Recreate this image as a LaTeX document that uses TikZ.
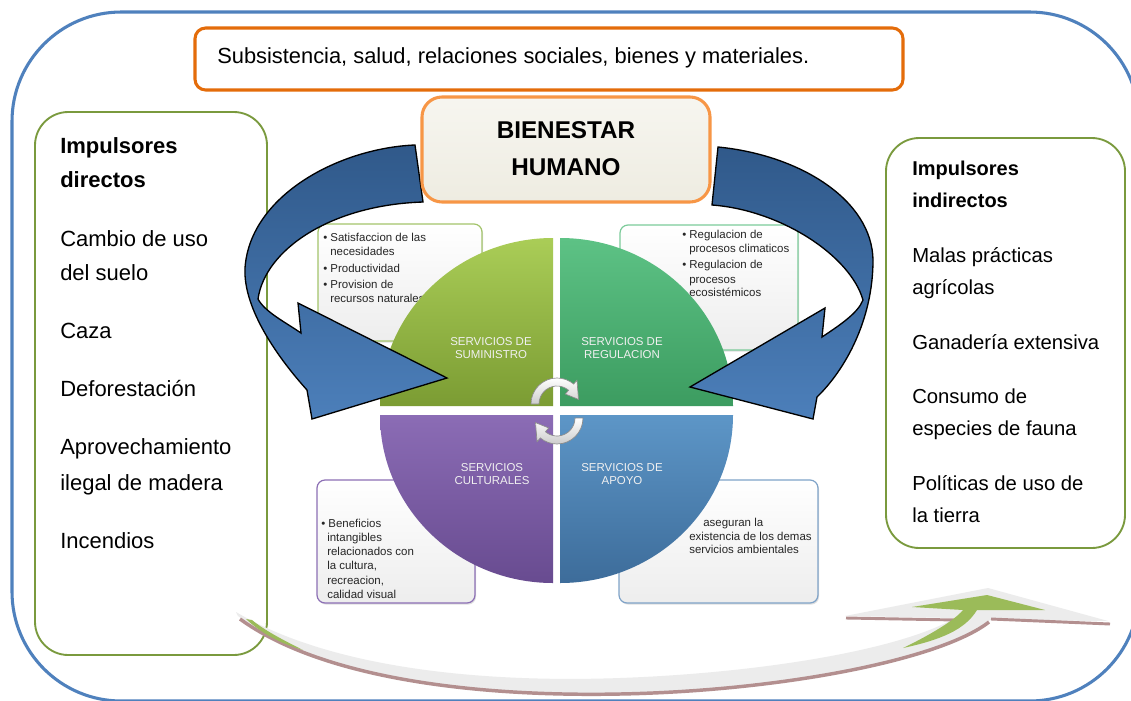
\documentclass[tikz,border=0pt]{standalone}
\usepackage{fontspec}
\setmainfont{Liberation Sans}
\usetikzlibrary{calc,shadows}
\definecolor{frameblue}{HTML}{4F81BD}
\definecolor{orangeline}{HTML}{E46C0A}
\definecolor{bienborder}{HTML}{F79646}
\definecolor{bienfill}{HTML}{EEECE1}
\definecolor{olivegreen}{HTML}{7A9A3E}
\definecolor{qtlA}{HTML}{AACD57}
\definecolor{qtlB}{HTML}{7B9C33}
\definecolor{qtrA}{HTML}{5DC285}
\definecolor{qtrB}{HTML}{3C9C60}
\definecolor{qblA}{HTML}{8B6CB5}
\definecolor{qblB}{HTML}{684B90}
\definecolor{qbrA}{HTML}{5D96C7}
\definecolor{qbrB}{HTML}{3D6C9A}
\definecolor{btl}{HTML}{A3C46B}
\definecolor{btr}{HTML}{7CCB9A}
\definecolor{bbl}{HTML}{8C6FB5}
\definecolor{bbr}{HTML}{7FA3C8}
\definecolor{arrowA}{HTML}{30598A}
\definecolor{arrowB}{HTML}{4C7FBA}
\definecolor{ribgray}{HTML}{ECECEC}
\definecolor{ribbrown}{HTML}{B38F8F}
\definecolor{ribgreen}{HTML}{9BBB59}
\tikzset{
 ltxt/.style={anchor=base west, inner sep=0pt, font=\fontsize{16.5}{19}\selectfont},
 lbold/.style={anchor=base west, inner sep=0pt, font=\fontsize{16.5}{19}\selectfont\bfseries},
 rtxt/.style={anchor=base west, inner sep=0pt, font=\fontsize{15.2}{18}\selectfont},
 rbold/.style={anchor=base west, inner sep=0pt, font=\fontsize{15}{18}\selectfont\bfseries},
 stxt/.style={anchor=base west, inner sep=0pt, text=black!85, font=\fontsize{8.6}{10}\selectfont},
 qtxt/.style={align=center, inner sep=0pt, text=white!94!black, font=\fontsize{8.6}{9.6}\selectfont},
 infobox/.style={rounded corners=6pt, line width=0.9pt, top color=white, bottom color=black!7,
   drop shadow={shadow xshift=0.8pt, shadow yshift=-1.2pt, opacity=0.25}},
 olivebox/.style={draw=olivegreen, line width=1.4pt, fill=white, rounded corners=25pt},
 bluearrow/.style={draw=black, line width=1pt, top color=arrowA, bottom color=arrowB, line join=miter},
 cyc/.style={draw=black!45, line width=0.5pt, top color=white, bottom color=black!20},
}
\begin{document}
\begin{tikzpicture}[x=0.75pt,y=-0.75pt]
\useasboundingbox (0,0) rectangle (1131,700);
\clip (0,0) rectangle (1131,700);
\fill[white] (0,0) rectangle (1131,700);
% outer frame
\draw[frameblue, line width=2.3pt, rounded corners=82pt] (12,12) rectangle (1139,701);
% top box
\draw[orangeline, line width=2.3pt, rounded corners=8pt, fill=white] (195,28) rectangle (903,90);
\node[anchor=base west, inner sep=0pt, font=\fontsize{16.4}{19}\selectfont] (top) at (217,63)
  {Subsistencia, salud, relaciones sociales, bienes y materiales.};
% left / right boxes
\path[olivebox] (35,112) rectangle (267,655);
\node[lbold] (ld1) at (60,153) {Impulsores};
\node[lbold] (ld2) at (60,187) {directos};
\node[ltxt] (l1) at (60,246) {Cambio de uso};
\node[ltxt] (l2) at (60,280) {del suelo};
\node[ltxt] (l3) at (60,338) {Caza};
\node[ltxt] (l4) at (60,396) {Deforestación};
\node[ltxt] (l5) at (60,454) {Aprovechamiento};
\node[ltxt] (l6) at (60,490) {ilegal de madera};
\node[ltxt] (l7) at (60,548) {Incendios};
\path[olivebox] (886,138) rectangle (1125,548);
\node[rbold] (ri1) at (912,175) {Impulsores};
\node[rbold] (ri2) at (912,207) {indirectos};
\node[rtxt] (r1) at (912,262) {Malas prácticas};
\node[rtxt] (r2) at (912,294) {agrícolas};
\node[rtxt] (r3) at (912,349) {Ganadería extensiva};
\node[rtxt] (r4) at (912,403) {Consumo de};
\node[rtxt] (r5) at (912,435) {especies de fauna};
\node[rtxt] (r6) at (912,490) {Políticas de uso de};
\node[rtxt] (r7) at (912,522) {la tierra};
% info boxes
\path[infobox, draw=btl] (318,224) rectangle (482,341);
\node[stxt] (s1a) at (323,241) {• Satisfaccion de las};
\node[stxt] (s1b) at (330,255) {necesidades};
\node[stxt] (s1c) at (323,272) {• Productividad};
\node[stxt] (s1d) at (323,288) {• Provision de};
\node[stxt] (s1e) at (330,302) {recursos naturales};
\path[infobox, draw=btr] (620,225) rectangle (798,350);
\node[stxt] (s2a) at (682,238) {• Regulacion de};
\node[stxt] (s2b) at (689,252) {procesos climaticos};
\node[stxt] (s2c) at (682,268) {• Regulacion de};
\node[stxt] (s2d) at (689,283) {procesos};
\node[stxt] (s2e) at (689,296) {ecosistémicos};
\path[infobox, draw=bbl] (317,480) rectangle (475,603);
\node[stxt] (s3a) at (321,527) {• Beneficios};
\node[stxt] (s3b) at (327,541) {intangibles};
\node[stxt] (s3c) at (327,555) {relacionados con};
\node[stxt] (s3d) at (327,569) {la cultura,};
\node[stxt] (s3e) at (327,584) {recreacion,};
\node[stxt] (s3f) at (327,598) {calidad visual};
\path[infobox, draw=bbr] (619,480) rectangle (818,603);
\node[stxt] (s4a) at (703,526) {aseguran la};
\node[stxt] (s4b) at (689,540) {existencia de los demas};
\node[stxt] (s4c) at (689,553) {servicios ambientales};
% quadrants
\path[top color=qtlA, bottom color=qtlB] (553,406) -- (380,406) arc[start angle=180, end angle=270, x radius=173, y radius=168] -- cycle;
\path[top color=qtrA, bottom color=qtrB] (560,406) -- (560,238) arc[start angle=270, end angle=360, x radius=173, y radius=168] -- cycle;
\path[top color=qblA, bottom color=qblB] (553,415) -- (380,415) arc[start angle=180, end angle=90, x radius=173, y radius=168] -- cycle;
\path[top color=qbrA, bottom color=qbrB] (560,415) -- (733,415) arc[start angle=0, end angle=90, x radius=173, y radius=168] -- cycle;
\node[qtxt] (q1) at (491,348) {SERVICIOS DE\\SUMINISTRO};
\node[qtxt] (q2) at (622,348) {SERVICIOS DE\\REGULACION};
\node[qtxt] (q3) at (492,474) {SERVICIOS\\CULTURALES};
\node[qtxt] (q4) at (622,474) {SERVICIOS DE\\APOYO};
% small cycle arrows
\coordinate (c1) at (557,404);
\coordinate (c2) at (557,418);
\path[cyc] ($(c1)+(-180:26)$) arc[start angle=-180, end angle=-50, radius=26]
  -- ($(c1)+(-50:31)$) -- ($(c1)+(-12:22)$) -- ($(c1)+(-50:13)$) -- ($(c1)+(-50:18)$)
  arc[start angle=-50, end angle=-180, radius=18] -- cycle;
\path[cyc] ($(c2)+(0:26)$) arc[start angle=0, end angle=130, radius=26]
  -- ($(c2)+(130:31)$) -- ($(c2)+(168:22)$) -- ($(c2)+(130:13)$) -- ($(c2)+(130:18)$)
  arc[start angle=130, end angle=0, radius=18] -- cycle;
% big blue arrows
\path[bluearrow] (415,145) .. controls (340,148) and (250,195) .. (245,268)
  .. controls (243,310) and (280,360) .. (307,390) -- (312,419) -- (447,378) -- (298,303) -- (301,333)
  .. controls (285,322) and (265,312) .. (258,299)
  .. controls (265,250) and (330,205) .. (423,202) -- cycle;
\path[bluearrow] (718,147) .. controls (800,155) and (872,200) .. (873,260)
  .. controls (873,320) and (845,370) .. (817,397) -- (813,419) -- (690,387) -- (825,308) -- (822,337)
  .. controls (840,325) and (858,313) .. (863,300)
  .. controls (850,255) and (780,210) .. (712,205) -- cycle;
% bienestar box
\draw[bienborder, line width=2.3pt, rounded corners=15pt, top color=white!50!bienfill, bottom color=bienfill] (422,97) rectangle (710,202);
\node[anchor=base, inner sep=0pt, font=\fontsize{18.2}{20}\selectfont\bfseries] (b1) at (566,138) {BIENESTAR};
\node[anchor=base, inner sep=0pt, font=\fontsize{18.2}{20}\selectfont\bfseries] (b2) at (566,175) {HUMANO};
% bottom ribbon arrow
\fill[ribgray] (236,612) .. controls (330,668) and (480,683) .. (620,678)
  .. controls (760,673) and (900,650) .. (955,618) -- (845,616) -- (988,588) -- (1108,621) -- (990,620)
  .. controls (940,660) and (780,692) .. (620,695)
  .. controls (470,698) and (320,675) .. (238,616) -- cycle;
\draw[ribbrown, line width=2.6pt] (240,619) .. controls (320,677) and (470,697) .. (620,694)
  .. controls (780,691) and (940,660) .. (989,622);
\draw[ribbrown, line width=2.2pt] (846,618) -- (956,620);
\draw[ribbrown, line width=2.2pt] (991,619) -- (1110,624);
\fill[ribgreen] (246,619) .. controls (262,634) and (282,644) .. (303,650)
  .. controls (283,640) and (264,630) .. (252,620) -- cycle;
\fill[ribgreen] (912,607) -- (987,595) -- (1045,610) -- (977,610)
  .. controls (965,630) and (940,640) .. (903,648)
  .. controls (930,635) and (955,620) .. (963,610) -- cycle;
\end{tikzpicture}
\end{document}
